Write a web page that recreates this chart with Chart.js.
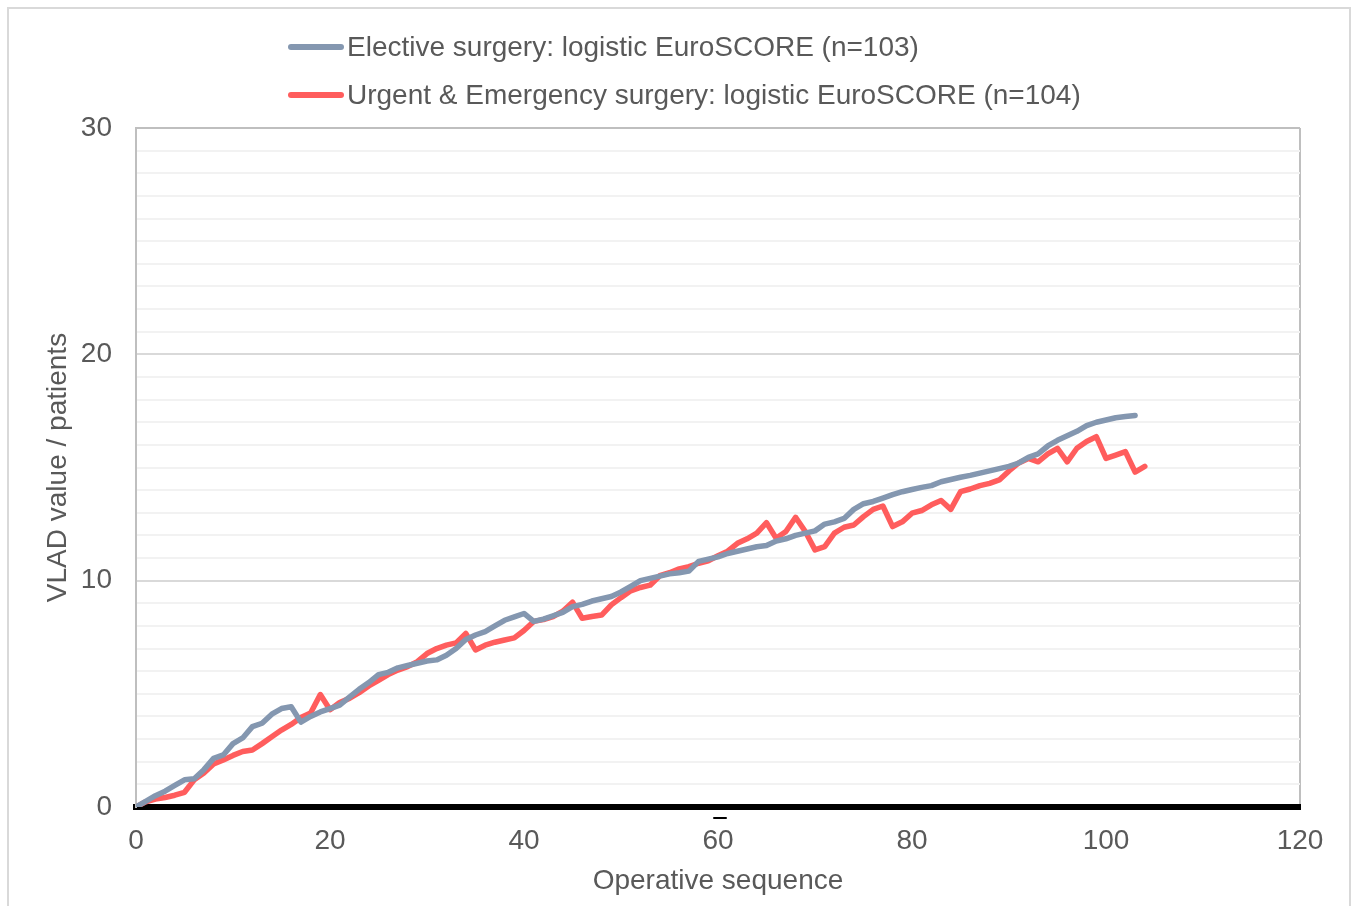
<!DOCTYPE html>
<html>
<head>
<meta charset="utf-8">
<script src="https://cdn.jsdelivr.net/npm/chart.js@4.4.1/dist/chart.umd.min.js"></script>
<style>
  html, body { margin: 0; padding: 0; background: #fff; overflow: hidden; }
  #wrap { position: relative; width: 1357px; height: 906px; }
  #frame { position: absolute; left: 7px; top: 7px; width: 1344px; height: 920px;
           border: 2px solid #d9d9d9; box-sizing: border-box; pointer-events: none; }
</style>
</head>
<body>
<div id="wrap">
  <canvas id="myChart" width="1357" height="906"></canvas>
  <div id="frame"></div>
</div>
<script>
// VLAD values, one per operation (index = operative sequence)
const elective = [
  0, 0.25, 0.5, 0.7, 0.95, 1.2, 1.25, 1.65, 2.15, 2.3,
  2.8, 3.05, 3.55, 3.7, 4.1, 4.35, 4.43, 3.75, 4.0, 4.2,
  4.35, 4.5, 4.85, 5.2, 5.5, 5.85, 5.95, 6.15, 6.25, 6.35,
  6.45, 6.5, 6.7, 7.0, 7.4, 7.6, 7.75, 8.0, 8.25, 8.4,
  8.55, 8.2, 8.3, 8.45, 8.6, 8.85, 8.95, 9.1, 9.2, 9.3,
  9.5, 9.75, 10.0, 10.1, 10.2, 10.3, 10.35, 10.42, 10.85, 10.95,
  11.05, 11.2, 11.3, 11.4, 11.5, 11.55, 11.75, 11.85, 12.0, 12.1,
  12.2, 12.5, 12.6, 12.75, 13.15, 13.4, 13.5, 13.65, 13.8, 13.93,
  14.03, 14.12, 14.2, 14.37, 14.47, 14.57, 14.65, 14.75, 14.85, 14.95,
  15.05, 15.2, 15.45, 15.6, 15.95, 16.2, 16.4, 16.6, 16.85, 17.0,
  17.1, 17.2, 17.25, 17.3
];
const urgent = [
  0, 0.23, 0.35, 0.42, 0.52, 0.65, 1.2, 1.5, 1.9, 2.08,
  2.28, 2.45, 2.52, 2.8, 3.1, 3.4, 3.65, 3.95, 4.15, 4.97,
  4.3, 4.62, 4.8, 5.05, 5.35, 5.6, 5.85, 6.05, 6.2, 6.42,
  6.78, 7.0, 7.15, 7.25, 7.67, 6.94, 7.15, 7.28, 7.38, 7.47,
  7.8, 8.2, 8.28, 8.41, 8.65, 9.05, 8.34, 8.42, 8.48, 8.93,
  9.25, 9.55, 9.7, 9.8, 10.22, 10.35, 10.52, 10.62, 10.77, 10.88,
  11.1, 11.3, 11.65, 11.85, 12.1, 12.56, 11.87, 12.17, 12.8, 12.17,
  11.36, 11.5, 12.1, 12.36, 12.46, 12.83, 13.15, 13.3, 12.39, 12.6,
  12.98, 13.1, 13.35, 13.54, 13.15, 13.93, 14.05, 14.2, 14.3, 14.45,
  14.85, 15.2, 15.4, 15.25, 15.6, 15.85, 15.25, 15.85, 16.15, 16.36,
  15.4, 15.55, 15.7, 14.8, 15.05
];
const seriesLabels = [
  'Elective surgery: logistic EuroSCORE (n=103)',
  'Urgent & Emergency surgery: logistic EuroSCORE (n=104)'
];
const xTicks = [0, 20, 40, 60, 80, 100, 120];
const yTicks = [0, 10, 20, 30];

const FONT = '"Liberation Sans", Arial, sans-serif';
const TXT = '#595959';

// legend drawn as two stacked rows, like the original
const stackedLegend = {
    id: 'stackedLegend',
    afterDraw(chart) {
        const ctx = chart.ctx;
        ctx.save();
        chart.data.datasets.forEach((ds, i) => {
            const y = 47 + i * 48;
            ctx.strokeStyle = ds.borderColor;
            ctx.lineWidth = 6;
            ctx.lineCap = 'round';
            ctx.beginPath();
            ctx.moveTo(291, y);
            ctx.lineTo(341, y);
            ctx.stroke();
            ctx.fillStyle = TXT;
            ctx.font = '28px ' + FONT;
            ctx.textBaseline = 'middle';
            ctx.textAlign = 'left';
            ctx.fillText(ds.label, 347, y + 1);
        });
        // small stray dash under the axis, as in the source picture
        ctx.strokeStyle = '#000';
        ctx.lineWidth = 2;
        ctx.beginPath();
        ctx.moveTo(714, 818);
        ctx.lineTo(726, 818);
        ctx.stroke();
        ctx.restore();
    }
};

const toPoints = arr => arr.map((v, i) => ({x: i, y: v}));

new Chart(document.getElementById('myChart'), {
    type: 'line',
    data: {
        datasets: [{
            label: seriesLabels[0],
            data: toPoints(elective),
            borderColor: '#8497B0',
            borderWidth: 5.5,
            pointRadius: 0,
            tension: 0,
            borderJoinStyle: 'round',
            borderCapStyle: 'round',
        },
        {
            label: seriesLabels[1],
            data: toPoints(urgent),
            borderColor: '#FF5D5D',
            borderWidth: 5.5,
            pointRadius: 0,
            tension: 0,
            borderJoinStyle: 'round',
            borderCapStyle: 'round',
        }]
    },
    options: {
        responsive: false,
        animation: false,
        layout: {
            padding: {left: 8, right: 57, top: 128, bottom: 0}
        },
        plugins: {
            legend: {display: false},
            tooltip: {enabled: false},
        },
        scales: {
            x: {
                type: 'linear',
                min: xTicks[0],
                max: xTicks[xTicks.length - 1],
                afterFit: s => { s.height = 99; },
                afterBuildTicks: s => { s.ticks = xTicks.map(v => ({value: v})); },
                border: {color: '#000', width: 6},
                grid: {
                    drawTicks: false,
                    lineWidth: 2,
                    color: c => (c.tick && c.tick.value === 120) ? '#bfbfbf' : 'rgba(0,0,0,0)',
                },
                ticks: {
                    padding: 17,
                    color: TXT,
                    font: {family: FONT, size: 28},
                },
                title: {
                    display: true,
                    text: 'Operative sequence',
                    color: TXT,
                    font: {family: FONT, size: 28},
                    padding: {top: 0, bottom: 8},
                },
            },
            y: {
                min: 0,
                max: 30,
                afterFit: s => { s.width = 128; },
                border: {color: '#bfbfbf', width: 2},
                grid: {
                    drawTicks: false,
                    lineWidth: 2,
                    color: c => {
                        const v = c.tick ? c.tick.value : 0;
                        if (v === 0) return 'rgba(0,0,0,0)';
                        if (v === 30) return '#bfbfbf';
                        return v % 10 === 0 ? '#d9d9d9' : '#f2f2f2';
                    },
                },
                ticks: {
                    stepSize: 1,
                    autoSkip: false,
                    padding: 24,
                    color: TXT,
                    font: {family: FONT, size: 28},
                    callback: v => yTicks.includes(v) ? v : '',
                },
                title: {
                    display: true,
                    text: 'VLAD value / patients',
                    color: TXT,
                    font: {family: FONT, size: 28},
                    padding: {top: 33, bottom: 0},
                },
            }
        }
    },
    plugins: [stackedLegend]
});
</script>
</body>
</html>
